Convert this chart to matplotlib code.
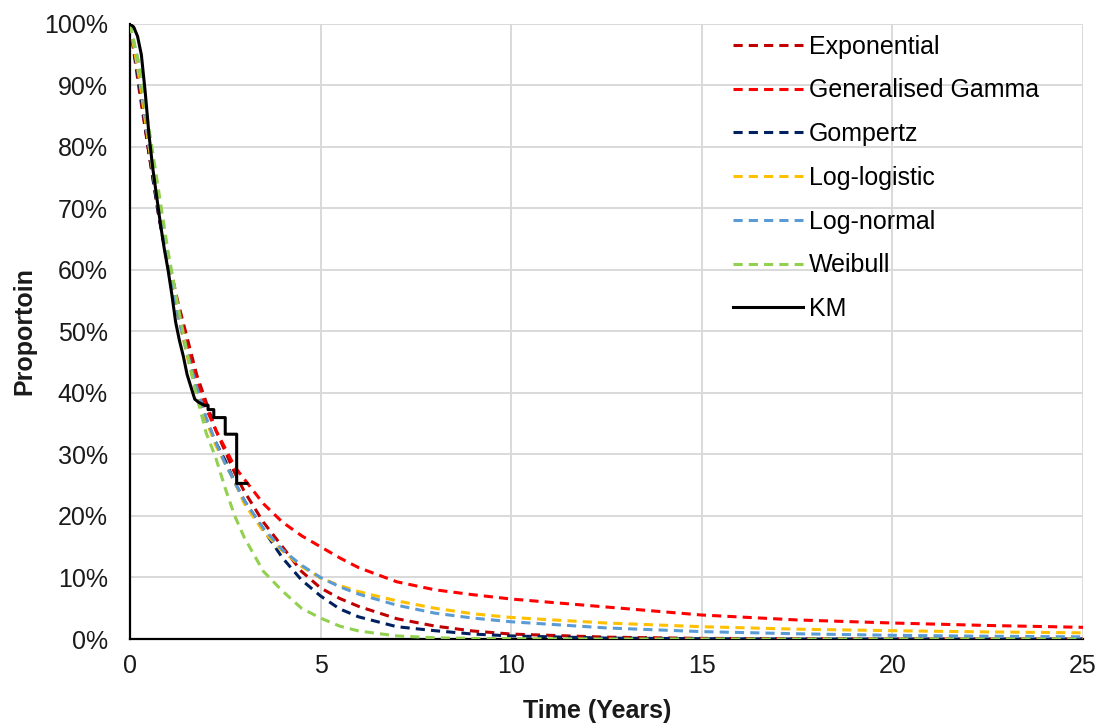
import matplotlib
matplotlib.use('Agg')
import matplotlib.pyplot as plt
import matplotlib.ticker as ticker

# ── Data ──────────────────────────────────────────────────────────────────────
TIMES = [0, 0.25, 0.5, 0.75, 1, 1.25, 1.5, 1.75, 2, 2.25, 2.5, 2.75, 3,
         3.5, 4, 4.5, 5, 5.5, 6, 7, 8, 9, 10, 12.5, 15, 17.5, 20, 22.5, 25]

exponential = [100, 89, 79, 70, 62, 55, 49, 43, 38.5, 34, 30.5, 27, 24,
               19, 15, 11, 8.3, 6.6, 5.3, 3.3, 2.1, 1.3, 0.8, 0.3, 0.1, 0.05, 0, 0, 0]
gen_gamma   = [100, 90, 79, 69, 61, 54, 47.5, 42, 37.5, 34, 31, 28, 26,
               22, 19, 16.8, 15, 13.2, 11.6, 9.3, 8.0, 7.2, 6.5, 5.2, 3.9, 3.1, 2.6, 2.2, 1.9]
gompertz    = [100, 90, 79, 69, 60.5, 53, 46.5, 40.5, 35.5, 32, 29, 25.5, 22.5,
               17.8, 13.2, 9.6, 7.0, 4.9, 3.6, 2.0, 1.35, 0.8, 0.5, 0.15, 0.05, 0, 0, 0, 0]
log_logistic = [100, 91, 80, 70, 61, 53, 46, 40, 35.5, 31.5, 28.5, 25.5, 22,
                17.5, 14.3, 11.8, 9.9, 8.7, 7.7, 6.2, 5.0, 4.1, 3.5, 2.6, 2.0, 1.6, 1.35, 1.15, 1.0]
log_normal  = [100, 93, 81, 70, 61, 53, 46.5, 41, 36, 32, 28.5, 25.5, 22.5,
               18, 14.5, 12, 10.0, 8.5, 7.3, 5.5, 4.2, 3.4, 2.8, 1.8, 1.2, 0.85, 0.6, 0.45, 0.35]
weibull     = [100, 93, 83, 73, 63, 54.5, 46.5, 39.5, 33.5, 29.5, 24.5, 20, 16.5,
               11, 7.8, 5.0, 3.4, 2.1, 1.3, 0.5, 0.2, 0.1, 0.05, 0, 0, 0, 0, 0, 0]

# Kaplan-Meier: smooth-looking early part, then visible steps
KM_TIMES = [0, 0.1, 0.2, 0.3, 0.4, 0.5, 0.6, 0.7, 0.8, 0.9, 1.0, 1.1, 1.2,
            1.3, 1.4, 1.5, 1.6, 1.7, 1.8, 1.95, 2.05, 2.05, 2.2, 2.2,
            2.5, 2.5, 2.8, 2.8, 3.07]
KM_SURV  = [100, 99.5, 98, 95, 89, 82, 76.5, 72, 67.5, 63.5, 60, 56, 51.5,
            48.5, 46, 43, 41, 39, 38.5, 38, 38, 37.3, 37.3, 36,
            36, 33.3, 33.3, 25.3, 25.3]

SERIES = [
    ('Exponential',        exponential,  '#C00000'),
    ('Generalised Gamma',  gen_gamma,    '#FF0000'),
    ('Gompertz',           gompertz,     '#002060'),
    ('Log-logistic',       log_logistic, '#FFC000'),
    ('Log-normal',         log_normal,   '#5B9BD5'),
    ('Weibull',            weibull,      '#92D050'),
]

TEXT_COLOR = '#1A1A1A'
GRID_COLOR = '#D9D9D9'
FS = 18

plt.rcParams['font.family'] = ['Liberation Sans', 'DejaVu Sans']

fig = plt.figure(figsize=(11.01, 7.24), dpi=100)
ax = fig.add_axes([0.118, 0.1174, 0.8657, 0.8495])

for name, vals, color in SERIES:
    ax.plot(TIMES, [v / 100 for v in vals], color=color, linewidth=2.2,
            linestyle=(0, (3, 2)), label=name, zorder=3)

ax.plot(KM_TIMES, [v / 100 for v in KM_SURV], color='black', linewidth=2.2,
        label='KM', zorder=4)

# ── Axes styling ──────────────────────────────────────────────────────────────
ax.set_xlim(0, 25)
ax.set_ylim(0, 1.0)
ax.xaxis.set_major_locator(ticker.MultipleLocator(5))
ax.yaxis.set_major_locator(ticker.MultipleLocator(0.1))
ax.yaxis.set_major_formatter(ticker.PercentFormatter(1.0, decimals=0))

ax.grid(True, color=GRID_COLOR, linewidth=1.4, zorder=0)
ax.set_axisbelow(True)

for side in ('top', 'right'):
    ax.spines[side].set_visible(False)
for side in ('left', 'bottom'):
    ax.spines[side].set_color('black')
    ax.spines[side].set_linewidth(1.6)
    ax.spines[side].set_zorder(2)

ax.tick_params(axis='both', length=0, labelsize=FS, colors=TEXT_COLOR)
ax.tick_params(axis='x', pad=11)
ax.tick_params(axis='y', pad=16)

ax.set_xlabel('Time (Years)', fontsize=FS, fontweight='bold', color=TEXT_COLOR)
ax.set_ylabel('Proportoin', fontsize=FS, fontweight='bold', color=TEXT_COLOR)
ax.xaxis.set_label_coords(0.49, -0.097)
ax.yaxis.set_label_coords(-0.098, 0.5)

ax.legend(loc='upper left', bbox_to_anchor=(0.622, 0.999), frameon=False,
          fontsize=FS, handlelength=2.8, handletextpad=0.25, labelspacing=0.79,
          borderaxespad=0)

fig.savefig('out.png', dpi=100, facecolor='white')
plt.close(fig)
